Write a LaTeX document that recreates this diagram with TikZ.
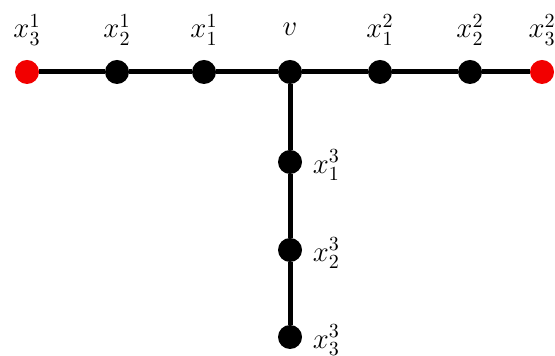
\documentclass[tikz,border=0pt]{standalone}
\usepackage{tikz}
\usetikzlibrary{positioning}
\definecolor{leafred}{HTML}{F20000}

\tikzset{
  vertex/.style={circle, fill=black, minimum size=12pt, inner sep=0pt},
  leaf/.style={vertex, fill=leafred},
  edge/.style={line width=2.5pt},
  tag/.style={font=\fontsize{14.5}{17}\selectfont, inner sep=1pt}
}

\begin{document}
\begin{tikzpicture}[x=0.5pt, y=-0.5pt]
  \useasboundingbox (0,0) rectangle (555,356);

  % Horizontal path
  \node[leaf] (xa3) at (27,72) {};
  \node[vertex] (xa2) at (117,72) {};
  \node[vertex] (xa1) at (204,72) {};
  \node[vertex] (v) at (290,72) {};
  \node[vertex] (xb1) at (380,72) {};
  \node[vertex] (xb2) at (470,72) {};
  \node[leaf] (xb3) at (542,72) {};

  % Vertical branch
  \node[vertex] (xc1) at (290,162) {};
  \node[vertex] (xc2) at (290,250) {};
  \node[vertex] (xc3) at (290,337) {};

  % Edges
  \draw[edge] (xa3) -- (xa2) -- (xa1) -- (v) -- (xb1) -- (xb2) -- (xb3);
  \draw[edge] (v) -- (xc1) -- (xc2) -- (xc3);

  % Labels above the path
  \node[tag, anchor=base] at ([yshift=17pt]xa3.center) {$x_3^1$};
  \node[tag, anchor=base] at ([yshift=17pt]xa2.center) {$x_2^1$};
  \node[tag, anchor=base] at ([yshift=17pt]xa1.center) {$x_1^1$};
  \node[tag, anchor=base] at ([yshift=18pt]v.center) {$v$};
  \node[tag, anchor=base] at ([yshift=17pt]xb1.center) {$x_1^2$};
  \node[tag, anchor=base] at ([yshift=17pt]xb2.center) {$x_2^2$};
  \node[tag, anchor=base] at ([yshift=17pt]xb3.center) {$x_3^2$};

  % Labels beside the branch
  \node[tag, anchor=west] at ([xshift=4pt, yshift=-1.5pt]xc1.east) {$x_1^3$};
  \node[tag, anchor=west] at ([xshift=4pt, yshift=-1.5pt]xc2.east) {$x_2^3$};
  \node[tag, anchor=west] at ([xshift=4pt, yshift=-1.5pt]xc3.east) {$x_3^3$};
\end{tikzpicture}
\end{document}
